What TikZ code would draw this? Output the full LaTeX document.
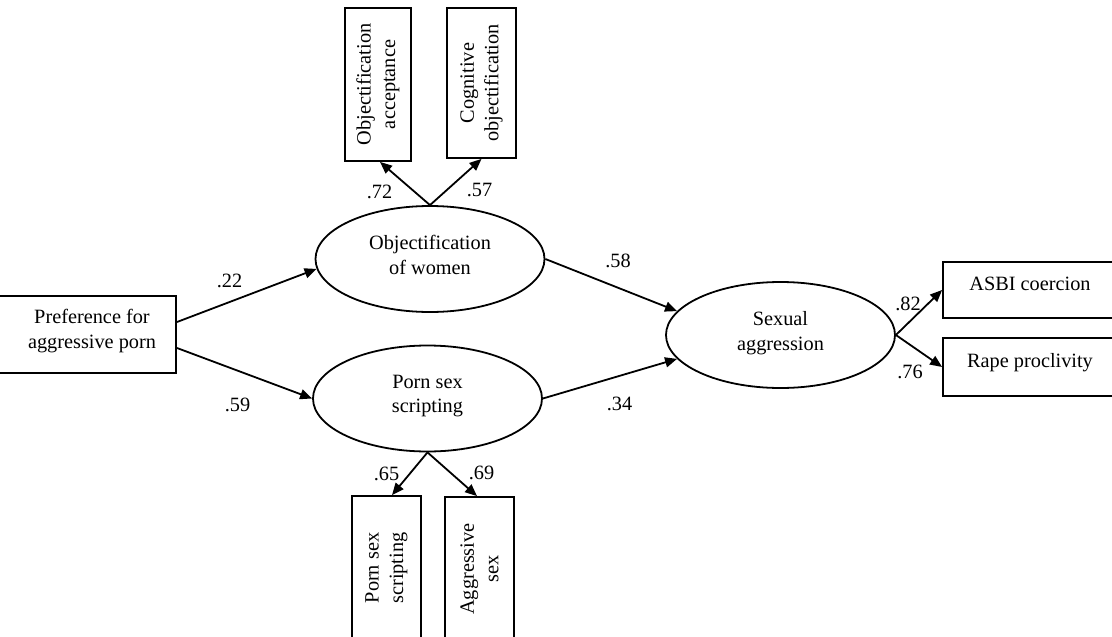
\documentclass[tikz,border=0pt]{standalone}
\usepackage{fontspec}
\setmainfont{Liberation Serif}
\usetikzlibrary{arrows.meta,shapes.geometric}
\begin{document}
\begin{tikzpicture}[x=1pt,y=-1pt,
  every node/.style={font=\fontsize{20.3}{24.5}\selectfont},
  box/.style={draw, line width=1.8pt, rectangle, inner sep=0pt, align=center},
  latent/.style={draw, line width=1.8pt, ellipse, inner sep=0pt, minimum width=229pt, minimum height=106pt, align=center},
  conn/.style={-{Triangle[length=12pt,width=10pt]}, line width=1.8pt},
  coef/.style={inner sep=0pt}
]
\useasboundingbox (0,0) rectangle (1112,637);
\fill[white] (0,0) rectangle (1112,637);
\clip (0,0) rectangle (1112,637);

% observed exogenous
\node[box, minimum width=200pt, minimum height=77pt, anchor=east] (pref) at (177,334.5) {};
\node[align=center, inner sep=0pt] (preftext) at (92,331) {Preference for\\aggressive porn};

% latent variables
\node[latent, text depth=8pt] (e1) at (430,259) {Objectification\\of women};
\node[latent, text depth=9pt] (e2) at (427.5,398.5) {Porn sex\\scripting};
\node[latent, text depth=7.7pt] (e3) at (780.5,335) {Sexual\\aggression};

% indicator boxes (top)
\node[box, rotate=90, minimum width=153pt, minimum height=66pt] (b1) at (378,84.5) {Objectification\\acceptance};
\node[box, rotate=90, minimum width=150pt, minimum height=69pt] (b2) at (481.5,83) {Cognitive\\objectification};

% indicator boxes (bottom)
\node[box, rotate=90, minimum width=144pt, minimum height=69pt] (b3) at (386.5,568) {Porn sex\\scripting};
\node[box, rotate=90, minimum width=144pt, minimum height=69pt] (b4) at (479.5,569) {Aggressive\\sex};

% indicator boxes (right)
\node[box, minimum width=175pt, minimum height=56pt] (asbi) at (1030.5,290) {};
\node[anchor=base, inner sep=0pt] (asbitext) at (1030,290) {ASBI coercion};
\node[box, minimum width=175pt, minimum height=58pt] (rape) at (1030.5,367) {};
\node[anchor=base, inner sep=0pt] (rapetext) at (1030,367) {Rape proclivity};

% connectors
\draw[conn] ([yshift=12.5pt]pref.east) -- (e1.185);
\draw[conn] ([yshift=-13.5pt]pref.east) -- (e2.west);
\draw[conn] (e1.north) -- ([xshift=2pt]b1.west);
\draw[conn] (e1.north) -- (b2.west);
\draw[conn] (e2.south) -- ([xshift=5.5pt]b3.east);
\draw[conn] (e2.south) -- ([xshift=-2.5pt]b4.east);
\draw[conn] (e1.east) -- (e3.167);
\draw[conn] (e2.east) -- (e3.193);
\draw[conn] (e3.east) -- (asbi.west);
\draw[conn] (e3.east) -- (rape.west);

% coefficients
\node[coef] (c22) at (229.5,281) {.22};
\node[coef] (c59) at (237.5,404.5) {.59};
\node[coef] (c72) at (379.5,192) {.72};
\node[coef] (c57) at (479.5,189.5) {.57};
\node[coef] (c65) at (386.5,473.5) {.65};
\node[coef] (c69) at (481.5,472.5) {.69};
\node[coef] (c58) at (618,260.5) {.58};
\node[coef] (c34) at (619.5,403.5) {.34};
\node[coef] (c82) at (908,303.5) {.82};
\node[coef] (c76) at (910,371.5) {.76};
\end{tikzpicture}
\end{document}
